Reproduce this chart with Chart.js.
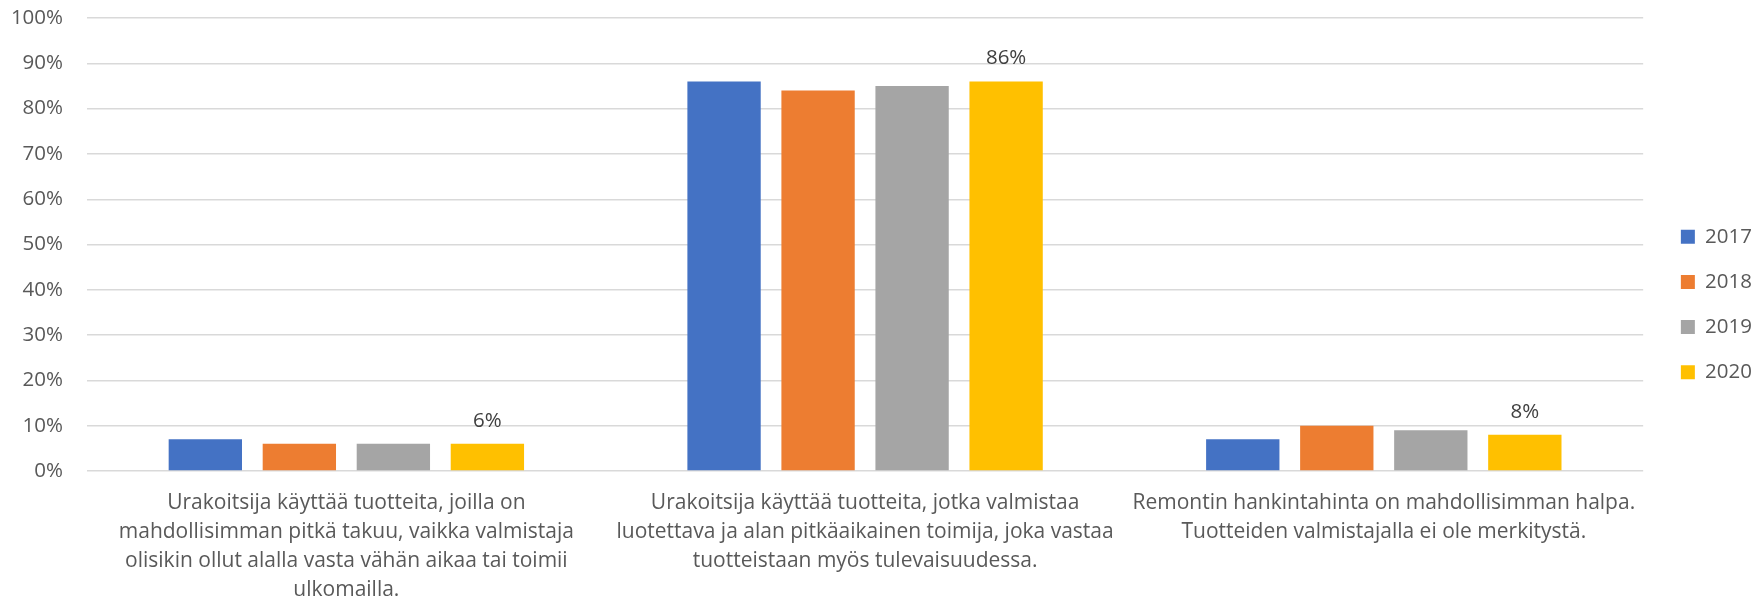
<!DOCTYPE html>
<html>
<head>
<meta charset="utf-8">
<script src="https://cdn.jsdelivr.net/npm/chart.js@4"></script>
<style>
  html, body { margin: 0; padding: 0; background: #fff; }
  #wrap { width: 1756px; height: 599px; position: relative; }
</style>
</head>
<body>
<div id="wrap"><canvas id="chart"></canvas></div>
<script>
/* categories (x-axis labels, one entry per line) */
const categories = [
  ['Urakoitsija käyttää tuotteita, joilla on', 'mahdollisimman pitkä takuu, vaikka valmistaja', 'olisikin ollut alalla vasta vähän aikaa tai toimii', 'ulkomailla.'],
  ['Urakoitsija käyttää tuotteita, jotka valmistaa', 'luotettava ja alan pitkäaikainen toimija, joka vastaa', 'tuotteistaan myös tulevaisuudessa.'],
  ['Remontin hankintahinta on mahdollisimman halpa.', 'Tuotteiden valmistajalla ei ole merkitystä.']
];

/* series values (%) */
const years = ['2017', '2018', '2019', '2020'];
const v2017 = [7, 86, 7];
const v2018 = [6, 84, 10];
const v2019 = [6, 85, 9];
const v2020 = [6, 86, 8];
const colors = ['#4472C4', '#ED7D31', '#A5A5A5', '#FFC000'];

/* y-axis ticks */
const yTicks = [0, 10, 20, 30, 40, 50, 60, 70, 80, 90, 100];

const FONT = "'Open Sans'";
const TEXT = '#595959';

const series = [v2017, v2018, v2019, v2020];

const valueLabels = {
  id: 'valueLabels',
  afterLayout(chart) {
    // let the long category labels run below the axis box instead of being clipped
    chart.scales.x.bottom = chart.height;
  },
  // only the 2020 bars carry a value label
  afterDatasetsDraw(chart) {
    const ctx = chart.ctx;
    const meta = chart.getDatasetMeta(3);
    ctx.save();
    ctx.font = '20.5px ' + FONT;
    ctx.fillStyle = '#404040';
    ctx.textAlign = 'center';
    ctx.textBaseline = 'middle';
    meta.data.forEach((bar, i) => {
      ctx.fillText(v2020[i] + '%', bar.x, bar.y - 23);
    });
    ctx.restore();
  }
};

new Chart(document.getElementById('chart'), {
  type: 'bar',
  data: {
    labels: categories,
    datasets: series.map((vals, k) => ({
      label: years[k],
      data: vals,
      backgroundColor: colors[k],
      categoryPercentage: 0.725,
      barPercentage: 0.78
    }))
  },
  options: {
    responsive: true,
    maintainAspectRatio: false,
    animation: false,
    layout: { padding: { top: 18, right: -6, bottom: 8, left: 0 } },
    scales: {
      x: {
        afterFit: scale => { scale.height = 120; },
        grid: { display: false, drawTicks: false },
        border: { display: false },
        ticks: {
          autoSkip: false,
          maxRotation: 0,
          padding: 17,
          color: TEXT,
          font: { family: FONT, size: 21, lineHeight: '29.1px' }
        }
      },
      y: {
        min: 0,
        max: 100,
        afterBuildTicks: axis => { axis.ticks = yTicks.map(v => ({ value: v })); },
        afterFit: scale => {
          scale.width = 87;
          scale.paddingTop = 0;
          scale.paddingBottom = 0;
        },
        grid: { color: '#D9D9D9', lineWidth: 1.4, drawTicks: false },
        border: { display: false },
        ticks: {
          padding: 24,
          color: TEXT,
          font: { family: FONT, size: 20.5 },
          callback: v => v + '%'
        }
      },
      yRight: {
        position: 'right',
        afterFit: scale => {
          scale.width = 13;
          scale.paddingTop = 0;
          scale.paddingBottom = 0;
        },
        grid: { display: false, drawTicks: false },
        border: { display: false },
        ticks: { display: false }
      }
    },
    plugins: {
      legend: {
        position: 'right',
        labels: {
          boxWidth: 14,
          boxHeight: 14,
          padding: 24.7,
          color: TEXT,
          font: { family: FONT, size: 20.5 }
        }
      },
      tooltip: { enabled: false }
    }
  },
  plugins: [valueLabels]
});
</script>
</body>
</html>
